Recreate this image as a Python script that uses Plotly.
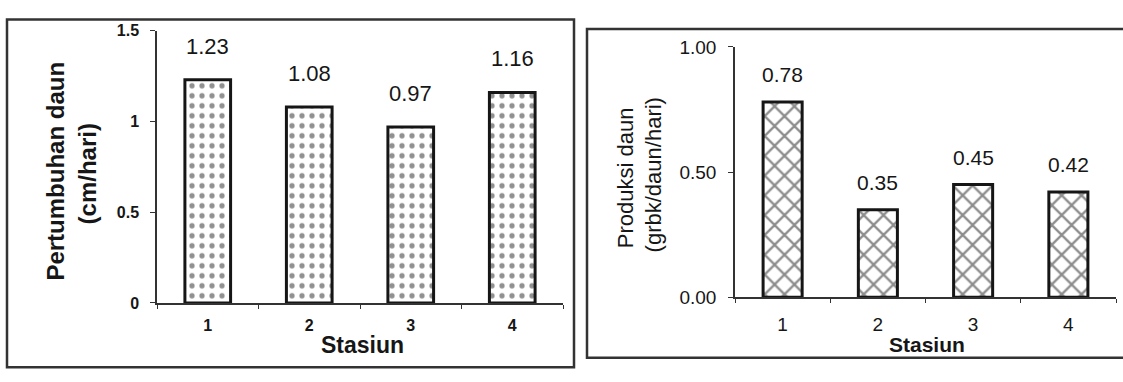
import plotly.graph_objects as go

W, H = 1123, 382

stations = [1, 2, 3, 4]
station_labels = ["1", "2", "3", "4"]
growth = [1.23, 1.08, 0.97, 1.16]          # Pertumbuhan daun (cm/hari)
production = [0.78, 0.35, 0.45, 0.42]      # Produksi daun (grbk/daun/hari)

left_ytick_vals = [0, 0.5, 1, 1.5]
left_ytick_text = ["0", "0.5", "1", "1.5"]
right_ytick_vals = [0, 0.5, 1.0]
right_ytick_text = ["0.00", "0.50", "1.00"]

FONT = "Liberation Sans, Arial, sans-serif"
INK = "#161616"


def px(x):
    return x / W


def py(y):
    return 1 - y / H


fig = go.Figure()

fig.add_trace(go.Bar(
    x=stations, y=growth, xaxis="x", yaxis="y", width=0.45,
    marker=dict(color="white", line=dict(color=INK, width=3),
                pattern=dict(shape=".", fgcolor="#222", bgcolor="white",
                             size=10, solidity=0.22)),
    showlegend=False, hoverinfo="skip"))

fig.add_trace(go.Bar(
    x=stations, y=production, xaxis="x2", yaxis="y2", width=0.41,
    marker=dict(color="white", line=dict(color=INK, width=3),
                pattern=dict(shape="x", fgcolor="#1a1a1a", bgcolor="white",
                             size=14, solidity=0.3)),
    showlegend=False, hoverinfo="skip"))

annotations = []
for s, v in zip(stations, growth):
    annotations.append(dict(x=s, y=v, xref="x", yref="y", text=f"{v:.2f}",
                            showarrow=False, yanchor="bottom", yshift=19,
                            font=dict(family=FONT, size=22, color=INK)))
for s, v in zip(stations, production):
    annotations.append(dict(x=s, y=v, xref="x2", yref="y2", text=f"{v:.2f}",
                            showarrow=False, yanchor="bottom", yshift=14,
                            font=dict(family=FONT, size=21, color=INK)))

# axis titles
annotations += [
    dict(x=px(56), y=py(171), xref="paper", yref="paper", text="Pertumbuhan daun",
         textangle=-90, showarrow=False, xanchor="center", yanchor="middle",
         font=dict(family=FONT, size=24, color=INK, weight="bold")),
    dict(x=px(87), y=py(174), xref="paper", yref="paper", text="(cm/hari)",
         textangle=-90, showarrow=False, xanchor="center", yanchor="middle",
         font=dict(family=FONT, size=24, color=INK, weight="bold")),
    dict(x=px(362), y=py(355), xref="paper", yref="paper", text="Stasiun",
         showarrow=False, xanchor="center", yanchor="middle",
         font=dict(family=FONT, size=23, color=INK, weight="bold")),
    dict(x=px(625), y=py(178), xref="paper", yref="paper", text="Produksi daun",
         textangle=-90, showarrow=False, xanchor="center", yanchor="middle",
         font=dict(family=FONT, size=22, color=INK)),
    dict(x=px(653), y=py(175), xref="paper", yref="paper", text="(grbk/daun/hari)",
         textangle=-90, showarrow=False, xanchor="center", yanchor="middle",
         font=dict(family=FONT, size=22, color=INK)),
    dict(x=px(927), y=py(354), xref="paper", yref="paper", text="Stasiun",
         showarrow=False, xanchor="center", yanchor="middle",
         font=dict(family=FONT, size=21, color=INK, weight="bold")),
]

shapes = [
    dict(type="rect", xref="paper", yref="paper", x0=px(7), x1=px(574),
         y0=py(378), y1=py(10), line=dict(color="#333", width=2.5)),
    dict(type="rect", xref="paper", yref="paper", x0=px(587), x1=px(1130),
         y0=py(368), y1=py(20), line=dict(color="#333", width=2.5)),
]

xcommon = dict(range=[0.5, 4.5], tickvals=stations, ticktext=station_labels,
               showgrid=False, showline=True, linecolor="#333",
               linewidth=1.5, ticks="outside", ticklen=0, tickcolor="#333",
               minor=dict(ticks="outside", tick0=0.5, dtick=1, ticklen=4,
                          tickcolor="#333", showgrid=False),
               zeroline=False, fixedrange=True)
ycommon = dict(showgrid=False, showline=True, linecolor="#333", linewidth=1.5,
               ticks="outside", ticklen=5, tickcolor="#333", zeroline=False,
               fixedrange=True)

fig.update_layout(
    width=W, height=H,
    margin=dict(l=0, r=0, t=0, b=0),
    paper_bgcolor="white", plot_bgcolor="white",
    xaxis=dict(domain=[px(157), px(563)], anchor="y",
               tickfont=dict(family=FONT, size=16, color=INK, weight="bold"),
               ticklabelstandoff=7, **xcommon),
    yaxis=dict(domain=[py(310), py(22)], anchor="x", range=[0, 1.5],
               tickvals=left_ytick_vals, ticktext=left_ytick_text,
               tickfont=dict(family=FONT, size=16, color=INK, weight="bold"),
               ticklabelstandoff=8, **ycommon),
    xaxis2=dict(domain=[px(735), px(1116)], anchor="y2",
                tickfont=dict(family=FONT, size=19, color=INK),
                ticklabelstandoff=9, **xcommon),
    yaxis2=dict(domain=[py(304), py(39)], anchor="x2", range=[0, 1.0],
                tickvals=right_ytick_vals, ticktext=right_ytick_text,
                tickfont=dict(family=FONT, size=19, color=INK),
                ticklabelstandoff=8, **ycommon),
    annotations=annotations,
    shapes=shapes,
)

fig.write_html("out.html")
